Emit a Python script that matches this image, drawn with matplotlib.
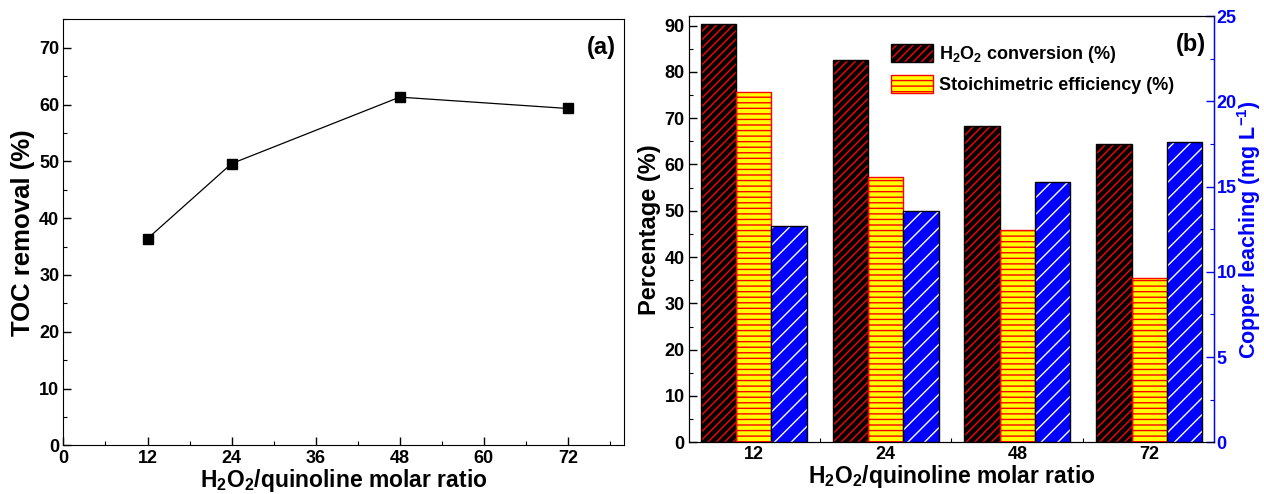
import numpy as np
import matplotlib
matplotlib.use("Agg")
import matplotlib.pyplot as plt
from matplotlib.ticker import MultipleLocator, FixedLocator
from matplotlib.legend_handler import HandlerTuple
from matplotlib.patches import Rectangle

plt.rcParams["font.family"] = ["Liberation Sans", "DejaVu Sans"]
plt.rcParams["font.weight"] = "bold"
plt.rcParams["mathtext.fontset"] = "custom"
plt.rcParams["mathtext.rm"] = "Liberation Sans:bold"
plt.rcParams["mathtext.bf"] = "Liberation Sans:bold"
plt.rcParams["mathtext.it"] = "Liberation Sans:bold"
plt.rcParams["mathtext.default"] = "bf"
plt.rcParams["hatch.linewidth"] = 1.0

# (a) TOC removal vs molar ratio
ratio = [12, 24, 48, 72]
toc_removal = [36.4, 49.6, 61.3, 59.3]

# (b) bar groups
ratio_labels = ["12", "24", "48", "72"]
h2o2_conversion = [90.4, 82.6, 68.4, 64.4]
stoich_efficiency = [75.7, 57.4, 45.8, 35.4]
copper_leaching = [12.7, 13.6, 15.3, 17.6]

BLUE = "#0000FF"

fig = plt.figure(figsize=(12.64, 4.94), dpi=100)


def bold_ticklabels(ax, color=None):
    for lbl in ax.get_xticklabels() + ax.get_yticklabels():
        lbl.set_fontweight("bold")
        lbl.set_fontsize(13)
        if color is not None:
            lbl.set_color(color)


# ---------- panel (a) ----------
ax1 = fig.add_axes([0.0502, 0.0982, 0.4434, 0.8628])
ax1.plot(ratio, toc_removal, color="black", lw=0.9, marker="s",
         markersize=7, markerfacecolor="black", markeredgecolor="black")
ax1.set_xlim(0, 80)
ax1.set_ylim(0, 75)
ax1.xaxis.set_major_locator(MultipleLocator(12))
ax1.xaxis.set_minor_locator(MultipleLocator(6))
ax1.yaxis.set_major_locator(MultipleLocator(10))
ax1.yaxis.set_minor_locator(MultipleLocator(5))
ax1.tick_params(which="major", direction="in", length=6, width=1, labelsize=13, pad=3)
ax1.tick_params(which="minor", direction="in", length=3, width=0.8)
ax1.set_xlabel("H$_2$O$_2$/quinoline molar ratio", fontsize=16.5, fontweight="bold", labelpad=0)
ax1.set_ylabel("TOC removal (%)", fontsize=18.5, fontweight="bold", labelpad=3)
ax1.text(0.985, 0.96, "(a)", transform=ax1.transAxes, ha="right", va="top",
         fontsize=17, fontweight="bold")

# ---------- panel (b) ----------
ax2 = fig.add_axes([0.5451, 0.1047, 0.4153, 0.8623])
ax3 = ax2.twinx()

x = np.arange(len(ratio_labels))
w = 0.268


def layered_bars(ax, xs, heights, face, hatch, hatch_color, edge):
    ax.bar(xs, heights, w, color=face, edgecolor="none", linewidth=0, zorder=2)
    ax.bar(xs, heights, w, facecolor="none", edgecolor=hatch_color, hatch=hatch,
           linewidth=0, zorder=3)
    ax.bar(xs, heights, w, facecolor="none", edgecolor=edge, linewidth=1.0, zorder=4)


def legend_handle(face, hatch, hatch_color, edge):
    return (Rectangle((0, 0), 1, 1, facecolor=face, edgecolor="none", linewidth=0),
            Rectangle((0, 0), 1, 1, facecolor="none", edgecolor=hatch_color,
                      hatch=hatch, linewidth=0),
            Rectangle((0, 0), 1, 1, facecolor="none", edgecolor=edge, linewidth=1.0))


layered_bars(ax2, x - w, h2o2_conversion, "black", "////", "red", "black")
layered_bars(ax2, x, stoich_efficiency, "#FFFF00", "---", "red", "red")
layered_bars(ax3, x + w, copper_leaching, BLUE, "//", "white", "black")

ax2.set_xlim(-0.49, 3.49)
ax2.set_ylim(0, 92)
ax3.set_ylim(0, 25)
ax2.set_xticks(x)
ax2.set_xticklabels(ratio_labels)
ax2.xaxis.set_minor_locator(FixedLocator(x[:-1] + 0.5))
ax2.yaxis.set_major_locator(MultipleLocator(10))
ax2.yaxis.set_minor_locator(MultipleLocator(5))
ax3.yaxis.set_major_locator(MultipleLocator(5))
ax3.yaxis.set_minor_locator(MultipleLocator(2.5))

ax2.tick_params(which="major", direction="in", length=6, width=1, labelsize=13, pad=3)
ax2.tick_params(which="minor", direction="in", length=3, width=0.8)
ax2.tick_params(axis="y", right=False)
ax3.tick_params(which="major", direction="in", length=6, width=1, labelsize=13,
                colors=BLUE, pad=2)
ax3.tick_params(which="minor", direction="in", length=3, width=0.8, colors=BLUE)
ax3.spines["right"].set_color(BLUE)
ax3.spines["right"].set_linewidth(1.0)

ax2.set_xlabel("H$_2$O$_2$/quinoline molar ratio", fontsize=16.5, fontweight="bold", labelpad=0)
ax2.set_ylabel("Percentage (%)", fontsize=17, fontweight="bold", labelpad=3)
ax3.set_ylabel("Copper leaching (mg L$^{-1}$)", fontsize=15.5, fontweight="bold",
               color=BLUE, labelpad=-1)
ax3.text(0.985, 0.96, "(b)", transform=ax3.transAxes, ha="right", va="top",
         fontsize=17, fontweight="bold")

handles = [legend_handle("black", "////", "red", "black"),
           legend_handle("#FFFF00", "---", "red", "red")]
ax3.legend(handles, ["H$_2$O$_2$ conversion (%)", "Stoichimetric efficiency (%)"],
           handler_map={tuple: HandlerTuple(ndivide=1, pad=0)},
           loc="upper left", bbox_to_anchor=(0.385, 0.935), frameon=False,
           borderpad=0, borderaxespad=0, handlelength=2.3, handleheight=1.15,
           handletextpad=0.35, labelspacing=0.55,
           prop={"size": 13, "weight": "bold"})

fig.canvas.draw()
bold_ticklabels(ax1)
bold_ticklabels(ax2)
bold_ticklabels(ax3, BLUE)

fig.savefig("out.png", dpi=100)
